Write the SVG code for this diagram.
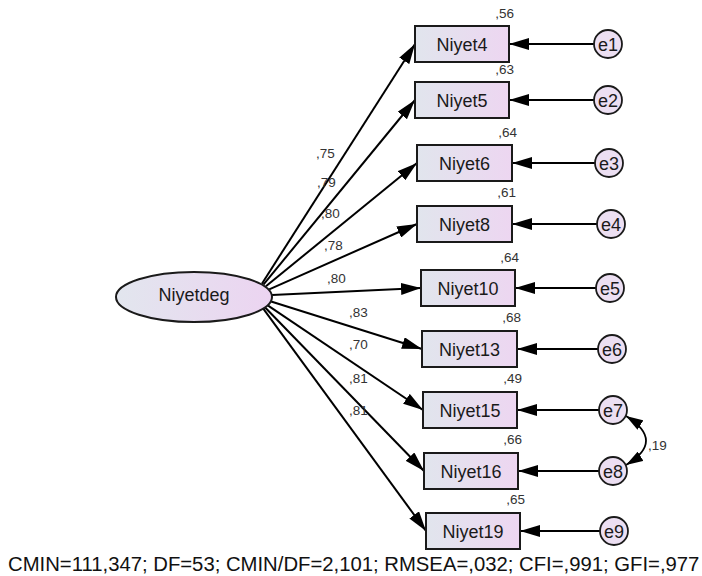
<svg xmlns="http://www.w3.org/2000/svg" width="702" height="576" viewBox="0 0 702 576">
  <defs>
    <linearGradient id="fillBox" x1="0" y1="0" x2="1" y2="0">
      <stop offset="0" stop-color="#e1e5ed"/>
      <stop offset="1" stop-color="#edd6f1"/>
    </linearGradient>
    <linearGradient id="fillLatent" x1="0" y1="0" x2="1" y2="0">
      <stop offset="0" stop-color="#e2e6ee"/>
      <stop offset="1" stop-color="#ecd4f1"/>
    </linearGradient>
    <marker id="arrow" markerUnits="userSpaceOnUse" markerWidth="20" markerHeight="12" refX="20" refY="6" orient="auto">
      <path d="M0,0 L20,6 L0,12 z" fill="#000"/>
    </marker>
    <marker id="arrowSmall" markerUnits="userSpaceOnUse" markerWidth="17" markerHeight="11" refX="17" refY="5.5" orient="auto-start-reverse">
      <path d="M0,0 L17,5.5 L0,11 z" fill="#000"/>
    </marker>
  </defs>
  <style>
    .obs { fill: url(#fillBox); stroke: #1a1a1a; stroke-width: 2; }
    .lat { fill: url(#fillLatent); stroke: #1a1a1a; stroke-width: 2; }
    .err { fill: #ecdff2; stroke: #1a1a1a; stroke-width: 1.8; }
    .name { font-family: "Liberation Sans", Arial, sans-serif; font-size: 18px; fill: #1a1a1a; text-anchor: middle; }
    .ename { font-family: "Liberation Sans", Arial, sans-serif; font-size: 18px; fill: #1a1a1a; text-anchor: middle; }
    .val { font-family: "Liberation Sans", Arial, sans-serif; font-size: 13.5px; fill: #333; }
    .valR { font-family: "Liberation Sans", Arial, sans-serif; font-size: 13.5px; fill: #333; text-anchor: end; }
    .path { fill: none; stroke: #000; stroke-width: 2; marker-end: url(#arrow); }
    .epath { fill: none; stroke: #000; stroke-width: 1.8; marker-end: url(#arrow); }
    .cov { fill: none; stroke: #000; stroke-width: 1.8; marker-start: url(#arrowSmall); marker-end: url(#arrowSmall); }
    .fit { font-family: "Liberation Sans", Arial, sans-serif; font-size: 20.3px; fill: #111; }
  </style>

  <rect width="702" height="576" fill="#ffffff"/>

  <!-- connectors -->
  <g id="connectors">
    <!-- factor loadings -->
    <path class="path" d="M261.9,283.7 L415,44"/>
    <path class="path" d="M263.4,284.6 L415,100"/>
    <path class="path" d="M265.9,286.3 L417,163"/>
    <path class="path" d="M269.2,289.3 L417,224"/>
    <path class="path" d="M272,295.1 L421,288"/>
    <path class="path" d="M270.3,301.2 L422,349"/>
    <path class="path" d="M267,304.8 L423,410"/>
    <path class="path" d="M264.4,306.7 L424,471"/>
    <path class="path" d="M262.7,307.9 L426,531"/>
    <!-- error terms -->
    <path class="epath" d="M594,44 L509,44"/>
    <path class="epath" d="M594,100 L509,100"/>
    <path class="epath" d="M595,163 L512,163"/>
    <path class="epath" d="M597,224 L512,224"/>
    <path class="epath" d="M596,288 L515,288"/>
    <path class="epath" d="M598,349 L517,349"/>
    <path class="epath" d="M599,410 L517,410"/>
    <path class="epath" d="M599,471 L518,471"/>
    <path class="epath" d="M600,531 L520,531"/>
    <!-- e7 / e8 covariance -->
    <path class="cov" d="M626,416 Q666,441 626,465"/>
    <!-- loading labels -->
    <text class="val" x="316" y="158">,75</text>
    <text class="val" x="317" y="187">,79</text>
    <text class="val" x="321" y="218">,80</text>
    <text class="val" x="324" y="250">,78</text>
    <text class="val" x="327" y="283">,80</text>
    <text class="val" x="349" y="317">,83</text>
    <text class="val" x="349" y="349">,70</text>
    <text class="val" x="349" y="383">,81</text>
    <text class="val" x="349" y="415">,81</text>
    <text class="val" x="648" y="450">,19</text>
  </g>

  <!-- latent factor -->
  <g id="Niyetdeg">
    <ellipse class="lat" cx="194" cy="297" rx="78" ry="25"/>
    <text class="name" x="194" y="301">Niyetdeg</text>
  </g>

  <!-- observed indicators -->
  <g id="Niyet4">
    <rect class="obs" x="415" y="26" width="94" height="36"/>
    <text class="name" x="462" y="51">Niyet4</text>
    <text class="valR" x="514" y="18">,56</text>
  </g>
  <g id="Niyet5">
    <rect class="obs" x="415" y="82" width="94" height="36"/>
    <text class="name" x="462" y="107">Niyet5</text>
    <text class="valR" x="514" y="74">,63</text>
  </g>
  <g id="Niyet6">
    <rect class="obs" x="417" y="145" width="95" height="36"/>
    <text class="name" x="464.5" y="170">Niyet6</text>
    <text class="valR" x="517" y="137">,64</text>
  </g>
  <g id="Niyet8">
    <rect class="obs" x="417" y="206" width="95" height="36"/>
    <text class="name" x="464.5" y="231">Niyet8</text>
    <text class="valR" x="516" y="197">,61</text>
  </g>
  <g id="Niyet10">
    <rect class="obs" x="421" y="270" width="94" height="36"/>
    <text class="name" x="468" y="295">Niyet10</text>
    <text class="valR" x="519" y="262">,64</text>
  </g>
  <g id="Niyet13">
    <rect class="obs" x="422" y="331" width="95" height="36"/>
    <text class="name" x="469.5" y="356">Niyet13</text>
    <text class="valR" x="521" y="322">,68</text>
  </g>
  <g id="Niyet15">
    <rect class="obs" x="423" y="392" width="94" height="36"/>
    <text class="name" x="470" y="417">Niyet15</text>
    <text class="valR" x="522" y="383">,49</text>
  </g>
  <g id="Niyet16">
    <rect class="obs" x="424" y="453" width="94" height="36"/>
    <text class="name" x="471" y="478">Niyet16</text>
    <text class="valR" x="522" y="444">,66</text>
  </g>
  <g id="Niyet19">
    <rect class="obs" x="426" y="513" width="94" height="36"/>
    <text class="name" x="473" y="538">Niyet19</text>
    <text class="valR" x="525" y="504">,65</text>
  </g>

  <!-- residual terms -->
  <g id="e1"><circle class="err" cx="608" cy="44" r="14"/><text class="ename" x="608" y="50.5">e1</text></g>
  <g id="e2"><circle class="err" cx="608" cy="100" r="14"/><text class="ename" x="608" y="106.5">e2</text></g>
  <g id="e3"><circle class="err" cx="609" cy="163" r="14"/><text class="ename" x="609" y="169.5">e3</text></g>
  <g id="e4"><circle class="err" cx="611" cy="224" r="14"/><text class="ename" x="611" y="230.5">e4</text></g>
  <g id="e5"><circle class="err" cx="610" cy="288" r="14"/><text class="ename" x="610" y="294.5">e5</text></g>
  <g id="e6"><circle class="err" cx="612" cy="349" r="14"/><text class="ename" x="612" y="355.5">e6</text></g>
  <g id="e7"><circle class="err" cx="613" cy="410" r="14"/><text class="ename" x="613" y="416.5">e7</text></g>
  <g id="e8"><circle class="err" cx="613" cy="471" r="14"/><text class="ename" x="613" y="477.5">e8</text></g>
  <g id="e9"><circle class="err" cx="614" cy="531" r="14"/><text class="ename" x="614" y="537.5">e9</text></g>

  <!-- model fit summary -->
  <text class="fit" x="8" y="571">CMIN=111,347; DF=53; CMIN/DF=2,101; RMSEA=,032; CFI=,991; GFI=,977</text>
</svg>
